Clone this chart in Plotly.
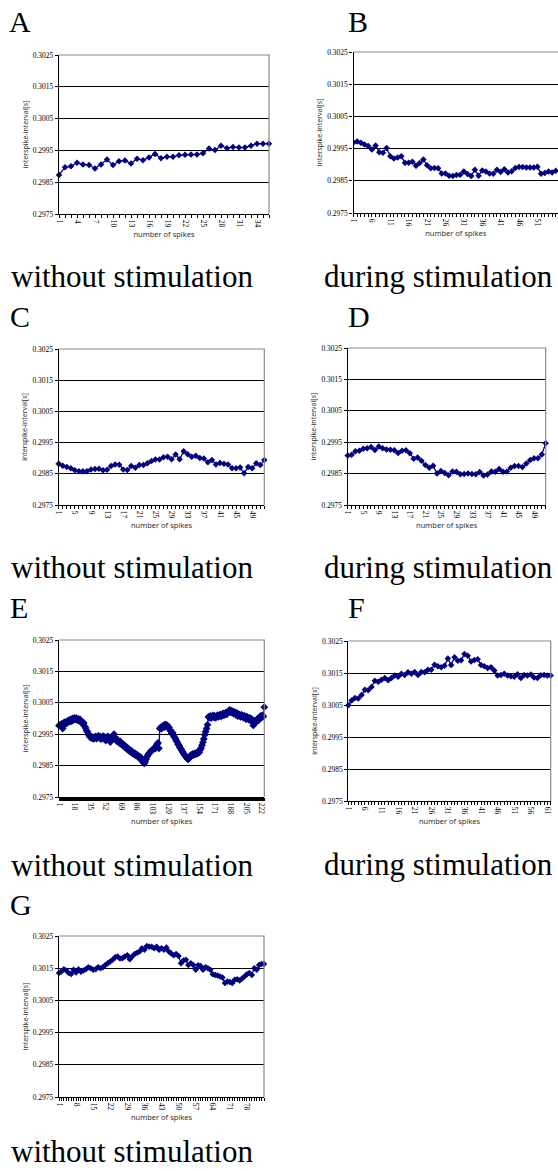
import plotly.graph_objects as go

W, H = 558, 1171

Y_TICKS = [0.2975, 0.2985, 0.2995, 0.3005, 0.3015, 0.3025]

A_values = [0.29873, 0.29897, 0.29900, 0.29911, 0.29906, 0.29904, 0.29893, 0.29906, 0.29921, 0.29904,
            0.29916, 0.29918, 0.29909, 0.29924, 0.29919, 0.29928, 0.29939, 0.29925, 0.29930, 0.29930,
            0.29935, 0.29936, 0.29937, 0.29937, 0.29941, 0.29956, 0.29951, 0.29965, 0.29957, 0.29961,
            0.29959, 0.29959, 0.29965, 0.29971, 0.29971, 0.29971]
A_labels = [1, 4, 7, 10, 13, 16, 19, 22, 25, 28, 31, 34]

B_values = [0.29969, 0.29972, 0.29968, 0.29963, 0.29958, 0.29947, 0.29960, 0.29939, 0.29937, 0.29952,
            0.29926, 0.29919, 0.29922, 0.29926, 0.29906, 0.29906, 0.29909, 0.29897, 0.29905, 0.29916,
            0.29898, 0.29889, 0.29890, 0.29889, 0.29873, 0.29873, 0.29866, 0.29865, 0.29868, 0.29869,
            0.29879, 0.29871, 0.29865, 0.29884, 0.29866, 0.29882, 0.29879, 0.29873, 0.29872, 0.29884,
            0.29877, 0.29886, 0.29876, 0.29880, 0.29890, 0.29893, 0.29893, 0.29891, 0.29891, 0.29891,
            0.29894, 0.29872, 0.29874, 0.29879, 0.29876, 0.29881]
B_labels = [1, 6, 11, 16, 21, 26, 31, 36, 41, 46, 51, 56]

C_values = [0.29882, 0.29876, 0.29872, 0.29868, 0.29861, 0.29858, 0.29858, 0.29858, 0.29864, 0.29865,
            0.29866, 0.29861, 0.29863, 0.29875, 0.29880, 0.29879, 0.29864, 0.29862, 0.29875, 0.29869,
            0.29878, 0.29878, 0.29884, 0.29891, 0.29896, 0.29896, 0.29903, 0.29905, 0.29897, 0.29912,
            0.29897, 0.29922, 0.29913, 0.29905, 0.29908, 0.29901, 0.29899, 0.29887, 0.29894, 0.29880,
            0.29885, 0.29882, 0.29880, 0.29868, 0.29868, 0.29870, 0.29852, 0.29872, 0.29868, 0.29884,
            0.29878, 0.29894]
C_labels = [1, 5, 9, 13, 17, 21, 25, 29, 33, 37, 41, 45, 49]

D_values = [0.29908, 0.29910, 0.29921, 0.29923, 0.29929, 0.29931, 0.29935, 0.29925, 0.29936, 0.29931,
            0.29927, 0.29926, 0.29924, 0.29916, 0.29923, 0.29924, 0.29915, 0.29897, 0.29901, 0.29891,
            0.29877, 0.29869, 0.29875, 0.29850, 0.29858, 0.29852, 0.29845, 0.29857, 0.29856, 0.29848,
            0.29849, 0.29850, 0.29849, 0.29848, 0.29855, 0.29844, 0.29847, 0.29857, 0.29856, 0.29865,
            0.29856, 0.29857, 0.29869, 0.29874, 0.29874, 0.29871, 0.29882, 0.29893, 0.29899, 0.29899,
            0.29911, 0.29947]
D_labels = [1, 5, 9, 13, 17, 21, 25, 29, 33, 37, 41, 45, 49]

E_values = [
    0.29977, 0.29980, 0.29975, 0.29983, 0.29968, 0.29985, 0.29988, 0.29982, 0.29990, 0.29986, 0.29993,
    0.29995, 0.29990, 0.29998, 0.29992, 0.30000, 0.29996, 0.30002, 0.29997, 0.30001, 0.29995, 0.29999,
    0.29993, 0.29997, 0.29988, 0.29990, 0.29984, 0.29986,
    0.29975, 0.29970, 0.29962, 0.29958, 0.29950,
    0.29946, 0.29940, 0.29943, 0.29937, 0.29941, 0.29935, 0.29939,
    0.29943, 0.29936, 0.29940, 0.29945, 0.29938, 0.29942, 0.29934, 0.29940, 0.29944, 0.29937, 0.29941,
    0.29930, 0.29938, 0.29943, 0.29936, 0.29940, 0.29925, 0.29941, 0.29937, 0.29944, 0.29950, 0.29940,
    0.29933, 0.29928, 0.29932, 0.29925, 0.29922, 0.29927, 0.29918,
    0.29920, 0.29913, 0.29916, 0.29908, 0.29911, 0.29903, 0.29906, 0.29898, 0.29901, 0.29894, 0.29897,
    0.29889, 0.29892, 0.29886, 0.29889, 0.29882, 0.29885, 0.29878, 0.29881, 0.29875, 0.29877,
    0.29868, 0.29864, 0.29860, 0.29857, 0.29862,
    0.29870, 0.29878, 0.29884, 0.29888, 0.29892, 0.29895, 0.29897, 0.29900, 0.29903, 0.29906, 0.29904,
    0.29912, 0.29918, 0.29922, 0.29905,
    0.29968, 0.29972, 0.29968, 0.29975, 0.29978, 0.29973, 0.29981, 0.29977,
    0.29979, 0.29970, 0.29972, 0.29964,
    0.29960, 0.29952, 0.29955, 0.29945, 0.29940, 0.29936, 0.29929, 0.29925, 0.29918, 0.29914,
    0.29907, 0.29904, 0.29898, 0.29893, 0.29888, 0.29884, 0.29880, 0.29876, 0.29872, 0.29870,
    0.29874, 0.29880, 0.29884, 0.29882, 0.29887, 0.29884, 0.29889, 0.29886, 0.29891, 0.29888,
    0.29895, 0.29892, 0.29900, 0.29906,
    0.29915, 0.29924, 0.29935, 0.29948, 0.29958, 0.29968, 0.29980,
    0.30005, 0.30003, 0.30008, 0.30001, 0.30006, 0.30010, 0.30004, 0.30008, 0.30002, 0.30007, 0.30011,
    0.30005, 0.30009, 0.30013, 0.30007, 0.30012, 0.30016, 0.30010, 0.30014, 0.30019, 0.30013, 0.30018,
    0.30022, 0.30027, 0.30020, 0.30025, 0.30018,
    0.30023, 0.30015, 0.30020, 0.30012, 0.30018, 0.30008, 0.30014, 0.30010, 0.30005, 0.30012, 0.30007,
    0.30003, 0.30009, 0.30004, 0.29998, 0.30006, 0.30001, 0.29996, 0.30002, 0.29994, 0.29999,
    0.29990, 0.29978, 0.29986, 0.29993,
    0.29988, 0.29996, 0.30000, 0.29995, 0.30004, 0.30008, 0.30003, 0.30010, 0.30006,
    0.30036,
]
E_labels = [1, 18, 35, 52, 69, 86, 103, 120, 137, 154, 171, 188, 205, 222]

F_values = [0.30049, 0.30064, 0.30072, 0.30070, 0.30081, 0.30098, 0.30096, 0.30106, 0.30126, 0.30123,
            0.30129, 0.30134, 0.30127, 0.30134, 0.30142, 0.30138, 0.30148, 0.30144, 0.30152, 0.30148,
            0.30153, 0.30144, 0.30153, 0.30152, 0.30160, 0.30160, 0.30176, 0.30171, 0.30168, 0.30173,
            0.30195, 0.30175, 0.30199, 0.30188, 0.30190, 0.30209, 0.30204, 0.30186, 0.30191, 0.30193,
            0.30175, 0.30171, 0.30166, 0.30168, 0.30158, 0.30142, 0.30144, 0.30148, 0.30142, 0.30140,
            0.30138, 0.30146, 0.30134, 0.30144, 0.30142, 0.30145, 0.30136, 0.30134, 0.30143, 0.30144,
            0.30142, 0.30142]
F_labels = [1, 6, 11, 16, 21, 26, 31, 36, 41, 46, 51, 56, 61]

G_values = [0.30135, 0.30140, 0.30147, 0.30143, 0.30135, 0.30132, 0.30145, 0.30137, 0.30147, 0.30139,
            0.30143, 0.30147, 0.30153, 0.30150, 0.30145, 0.30147, 0.30153, 0.30150, 0.30153, 0.30160,
            0.30165, 0.30171, 0.30176, 0.30184, 0.30186, 0.30180, 0.30181, 0.30186, 0.30190, 0.30178,
            0.30186, 0.30194, 0.30198, 0.30202, 0.30212, 0.30207, 0.30219, 0.30217, 0.30217, 0.30212,
            0.30217, 0.30207, 0.30212, 0.30207, 0.30214, 0.30202, 0.30196, 0.30190, 0.30194, 0.30188,
            0.30165, 0.30174, 0.30176, 0.30160, 0.30165, 0.30160, 0.30145, 0.30159, 0.30157, 0.30145,
            0.30153, 0.30150, 0.30145, 0.30131, 0.30129, 0.30127, 0.30124, 0.30121, 0.30104, 0.30109,
            0.30107, 0.30104, 0.30114, 0.30116, 0.30112, 0.30118, 0.30124, 0.30131, 0.30135, 0.30129,
            0.30150, 0.30145, 0.30160, 0.30163, 0.30163]
G_labels = [1, 8, 15, 22, 29, 36, 43, 50, 57, 64, 71, 78]

LETTERS = ["A", "B", "C", "D", "E", "F", "G"]
CAPTIONS = ["without stimulation", "during stimulation", "without stimulation", "during stimulation",
            "without stimulation", "during stimulation", "without stimulation"]

# (values, labels, plot box in px: left, right, top, bottom, x-range end override, marker size,
#  letter pos (left, baseline), caption pos (left, baseline))
panels = [
    (A_values, A_labels, (59, 269, 55, 214), None, 5, (8, 31.5), (10, 287.5)),
    (B_values, B_labels, (353.5, 558, 52, 213), 56.6, 5, (347, 31.5), (323, 287)),
    (C_values, C_labels, (58.7, 264.3, 349, 505), None, 5, (9, 326.5), (10, 578.5)),
    (D_values, D_labels, (347.7, 545.7, 348, 505), None, 5, (347, 326.5), (323, 578.5)),
    (E_values, E_labels, (59, 264.3, 640, 797), None, 6, (9, 618), (10, 876)),
    (F_values, F_labels, (348.3, 550.7, 641, 801), None, 5, (347, 618), (323, 875)),
    (G_values, G_labels, (59, 264, 936, 1097), None, 5, (9, 915), (10, 1162.2)),
]

NAVY = "#000080"
SERIF = "Liberation Serif, DejaVu Serif, serif"
SANS = "Noto Sans, DejaVu Sans, sans-serif"
DESC = 0.216  # font descent fraction, used to place annotation boxes by baseline

fig = go.Figure()
layout = dict(
    width=W, height=H, margin=dict(l=0, r=0, t=0, b=0, pad=0, autoexpand=False),
    paper_bgcolor="white", plot_bgcolor="white", showlegend=False,
)
shapes = []
annotations = []

for k, (vals, labels, box, xend, msize, lpos, cpos) in enumerate(panels, start=1):
    l, r, t, b = box
    xs = list(range(1, len(vals) + 1))
    xname = "x" if k == 1 else f"x{k}"
    yname = "y" if k == 1 else f"y{k}"
    fig.add_trace(go.Scatter(
        x=xs, y=vals, xaxis=xname, yaxis=yname, mode="lines+markers",
        line=dict(color=NAVY, width=1.3),
        marker=dict(symbol="diamond", size=msize, color=NAVY),
        cliponaxis=(xend is not None),
    ))
    xr_end = xend if xend is not None else len(vals)
    layout["xaxis" if k == 1 else f"xaxis{k}"] = dict(
        domain=[l / W, min(r / W, 1.0)], anchor=yname, range=[1, xr_end], automargin=False,
        tickmode="array", tickvals=xs,
        ticktext=[str(i) if i in labels else "" for i in xs],
        tickangle=90, ticks="outside", ticklen=3, tickwidth=1, tickcolor="black",
        showline=True, linecolor="black", linewidth=1.3,
        showgrid=False, zeroline=False,
        tickfont=dict(family=SERIF, size=7.5, color="black"),
        title=dict(text="number of spikes", font=dict(family=SANS, size=7.5, color="#333333"), standoff=5),
    )
    layout["yaxis" if k == 1 else f"yaxis{k}"] = dict(
        domain=[1 - b / H, 1 - t / H], anchor=xname, range=[0.2975, 0.3025], automargin=False,
        tickmode="array", tickvals=Y_TICKS, tickformat=".4f",
        ticks="outside", ticklen=3, tickwidth=1, tickcolor="black",
        showline=True, linecolor="black", linewidth=1.3,
        showgrid=True, gridcolor="black", gridwidth=1, zeroline=False,
        tickfont=dict(family=SERIF, size=7.5, color="black"),
        title=dict(text="interspike-interval[s]", font=dict(family=SANS, size=7, color="#333333"), standoff=3),
    )
    border_path = "M 0,1 L 1,1" if xend is not None else "M 0,1 L 1,1 L 1,0"
    shapes.append(dict(type="path", path=border_path, xref=f"{xname} domain", yref=f"{yname} domain",
                       line=dict(color="#888888", width=1.2), layer="above"))
    for text, (px, base), size in ((LETTERS[k - 1], lpos, 30), (CAPTIONS[k - 1], cpos, 31)):
        annotations.append(dict(text=text, x=(px - 1) / W, y=1 - (base + DESC * size + 2) / H,
                                xref="paper", yref="paper", xanchor="left", yanchor="bottom",
                                showarrow=False, font=dict(family=SERIF, size=size, color="black")))

layout["shapes"] = shapes
layout["annotations"] = annotations
fig.update_layout(**layout)
fig.write_html("out.html", config={"displayModeBar": False},
               post_script="document.body.style.margin='0';document.body.style.padding='0';")
